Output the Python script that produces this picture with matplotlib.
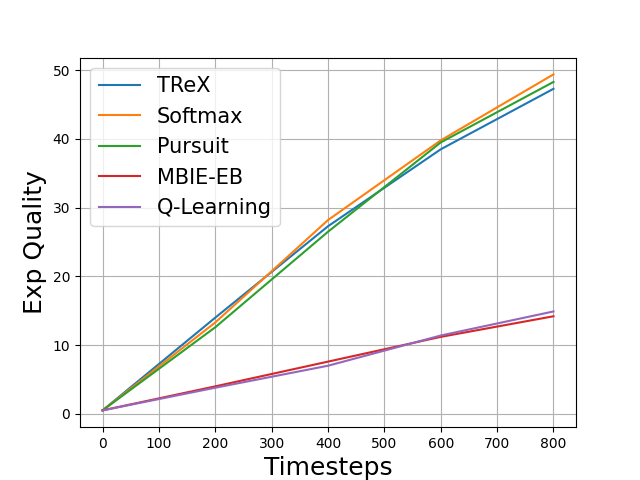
import matplotlib
matplotlib.use("Agg")
import matplotlib.pyplot as plt

timesteps = [0, 200, 400, 600, 800]
trex = [0.5, 14.0, 27.3, 38.5, 47.3]
softmax = [0.5, 13.3, 28.2, 39.8, 49.4]
pursuit = [0.5, 12.6, 26.5, 39.5, 48.3]
mbie_eb = [0.5, 4.0, 7.6, 11.2, 14.2]
q_learning = [0.5, 3.8, 7.0, 11.4, 14.9]

fig, ax = plt.subplots(figsize=(6.4, 4.8), dpi=100)
ax.plot(timesteps, trex, label="TReX")
ax.plot(timesteps, softmax, label="Softmax")
ax.plot(timesteps, pursuit, label="Pursuit")
ax.plot(timesteps, mbie_eb, label="MBIE-EB")
ax.plot(timesteps, q_learning, label="Q-Learning")

ax.set_xticks(range(0, 801, 100))
ax.grid(True)
ax.set_xlabel("Timesteps", fontsize=18)
ax.set_ylabel("Exp Quality", fontsize=18)
ax.legend(fontsize=15, loc="upper left")

plt.savefig("out.png", dpi=100)
